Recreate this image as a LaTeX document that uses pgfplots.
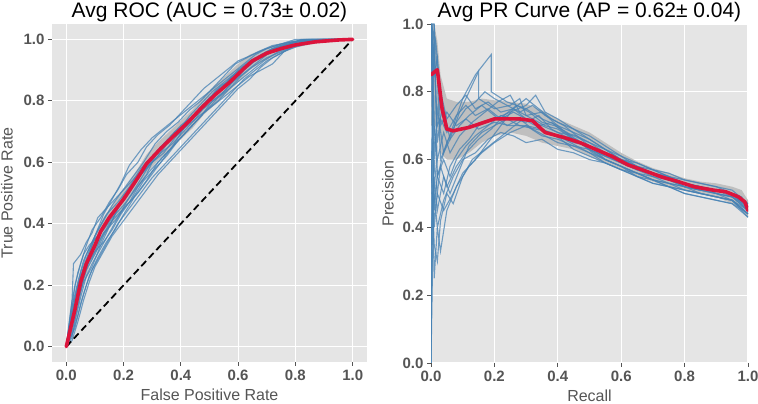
\documentclass[border=0pt]{standalone}
\usepackage{pgfplots}
\pgfplotsset{compat=1.18}
\usepackage{fontspec}
\setmainfont{Liberation Sans}
\definecolor{bg}{HTML}{E5E5E5}
\definecolor{tickc}{HTML}{555555}
\definecolor{foldc}{HTML}{4682B4}
\definecolor{meanc}{HTML}{DC143C}
\pgfplotsset{
 myax/.style={
  scale only axis,
  axis background/.style={fill=bg},
  axis line style={draw=none},
  grid=major, major grid style={white, line width=1.1pt},
  tick style={tickc, line width=0.8pt}, tick align=outside, major tick length=4pt,
  xtick pos=lower, ytick pos=left,
  xtick={0,0.2,0.4,0.6,0.8,1.0}, ytick={0,0.2,0.4,0.6,0.8,1.0},
  xticklabels={0.0,0.2,0.4,0.6,0.8,1.0}, yticklabels={0.0,0.2,0.4,0.6,0.8,1.0},
  ticklabel style={font=\fontsize{15}{15}\selectfont\bfseries, text=tickc},
  label style={font=\fontsize{16}{16}\selectfont, text=tickc},
  title style={font=\fontsize{21}{21}\selectfont, anchor=base, at={(0.5,1)}, yshift=0pt},
  every axis title shift=6pt,
  xlabel shift=2pt, ylabel shift=2pt,
 },
 fold/.style={foldc, opacity=0.75, line width=1.1pt, mark=none, line join=miter},
 roc/.style={fold},
 band/.style={draw=none, fill=black!25},
 meanl/.style={meanc, line width=3.6pt, mark=none, line join=round, line cap=round},
}
\begin{document}
\begin{tikzpicture}
\useasboundingbox (0,0) rectangle (758pt,404pt);
\begin{axis}[myax, at={(52pt,42pt)}, anchor=south west, width=315pt, height=338pt,
  xmin=-0.05, xmax=1.05, ymin=-0.05, ymax=1.05, ylabel shift=4pt,
  title={Avg ROC (AUC = 0.73± 0.02)}, xlabel={False Positive Rate}, ylabel={True Positive Rate}]
\addplot[band] coordinates {(0,0)(0.02,0.1)(0.05,0.23)(0.08,0.32)(0.1,0.36)(0.13,0.42)(0.16,0.46)(0.2,0.51)(0.24,0.565)(0.28,0.625)(0.32,0.665)(0.36,0.7)(0.4,0.735)(0.44,0.77)(0.48,0.815)(0.52,0.85)(0.56,0.885)(0.6,0.92)(0.64,0.95)(0.68,0.965)(0.72,0.977)(0.76,0.986)(0.8,0.993)(0.85,0.997)(0.9,1)(1,1)(0.9,0.99)(0.85,0.983)(0.8,0.973)(0.76,0.96)(0.72,0.943)(0.68,0.925)(0.64,0.9)(0.6,0.86)(0.56,0.825)(0.52,0.79)(0.48,0.755)(0.44,0.71)(0.4,0.675)(0.36,0.64)(0.32,0.605)(0.28,0.565)(0.24,0.505)(0.2,0.45)(0.16,0.4)(0.13,0.36)(0.1,0.3)(0.08,0.26)(0.05,0.17)(0.02,0.04)(0,0)} -- cycle;
\addplot[roc] coordinates {(0,0)(0.01,0.06)(0.02,0.12)(0.03,0.2)(0.05,0.27)(0.07,0.33)(0.09,0.38)(0.12,0.42)(0.15,0.47)(0.18,0.51)(0.21,0.56)(0.25,0.6)(0.28,0.65)(0.32,0.69)(0.36,0.72)(0.4,0.76)(0.44,0.8)(0.48,0.84)(0.52,0.87)(0.56,0.9)(0.6,0.93)(0.65,0.95)(0.7,0.97)(0.75,0.985)(0.8,0.995)(0.9,1)(1,1)};
\addplot[roc] coordinates {(0,0)(0.01,0.02)(0.03,0.06)(0.05,0.14)(0.07,0.2)(0.09,0.25)(0.12,0.3)(0.15,0.35)(0.18,0.4)(0.22,0.45)(0.26,0.5)(0.3,0.55)(0.34,0.59)(0.38,0.63)(0.42,0.67)(0.46,0.71)(0.5,0.75)(0.54,0.79)(0.58,0.83)(0.62,0.87)(0.66,0.9)(0.7,0.93)(0.74,0.95)(0.78,0.97)(0.82,0.99)(0.9,1)(1,1)};
\addplot[roc] coordinates {(0,0)(0.01,0.08)(0.02,0.15)(0.04,0.24)(0.06,0.3)(0.08,0.33)(0.11,0.36)(0.14,0.4)(0.17,0.44)(0.2,0.49)(0.24,0.54)(0.28,0.58)(0.32,0.62)(0.36,0.67)(0.4,0.7)(0.45,0.75)(0.5,0.8)(0.55,0.85)(0.6,0.88)(0.64,0.92)(0.68,0.95)(0.72,0.97)(0.77,0.98)(0.82,1)(1,1)};
\addplot[roc] coordinates {(0,0)(0.02,0.05)(0.04,0.13)(0.06,0.22)(0.08,0.28)(0.1,0.31)(0.13,0.34)(0.16,0.38)(0.19,0.43)(0.22,0.47)(0.25,0.52)(0.29,0.57)(0.33,0.61)(0.37,0.65)(0.41,0.69)(0.45,0.73)(0.49,0.77)(0.53,0.81)(0.57,0.84)(0.61,0.88)(0.65,0.91)(0.7,0.94)(0.75,0.96)(0.8,0.98)(0.85,0.995)(1,1)};
\addplot[roc] coordinates {(0,0)(0.01,0.04)(0.02,0.1)(0.03,0.16)(0.05,0.24)(0.07,0.3)(0.1,0.36)(0.13,0.41)(0.16,0.46)(0.19,0.5)(0.23,0.55)(0.27,0.6)(0.31,0.66)(0.35,0.7)(0.39,0.73)(0.43,0.77)(0.47,0.8)(0.51,0.84)(0.55,0.88)(0.59,0.92)(0.63,0.94)(0.67,0.96)(0.72,0.98)(0.78,0.99)(0.85,1)(1,1)};
\addplot[roc] coordinates {(0,0)(0.02,0.04)(0.04,0.1)(0.06,0.17)(0.08,0.23)(0.11,0.29)(0.14,0.34)(0.17,0.38)(0.2,0.43)(0.24,0.49)(0.28,0.54)(0.32,0.6)(0.36,0.64)(0.4,0.68)(0.44,0.72)(0.48,0.76)(0.52,0.79)(0.56,0.82)(0.6,0.85)(0.64,0.88)(0.68,0.9)(0.72,0.92)(0.76,0.96)(0.8,0.98)(0.85,0.99)(0.92,1)(1,1)};
\addplot[roc] coordinates {(0,0)(0.01,0.05)(0.02,0.09)(0.04,0.18)(0.06,0.26)(0.08,0.31)(0.1,0.35)(0.13,0.38)(0.16,0.42)(0.2,0.46)(0.24,0.51)(0.28,0.56)(0.32,0.64)(0.36,0.68)(0.4,0.72)(0.44,0.75)(0.48,0.78)(0.52,0.83)(0.56,0.86)(0.6,0.9)(0.64,0.93)(0.68,0.95)(0.73,0.97)(0.78,0.985)(0.83,1)(1,1)};
\addplot[roc] coordinates {(0,0)(0.01,0.07)(0.02,0.15)(0.025,0.27)(0.05,0.3)(0.07,0.34)(0.09,0.37)(0.11,0.42)(0.14,0.45)(0.18,0.49)(0.22,0.53)(0.26,0.57)(0.3,0.61)(0.34,0.65)(0.38,0.69)(0.42,0.73)(0.46,0.77)(0.5,0.81)(0.54,0.85)(0.58,0.87)(0.62,0.9)(0.66,0.93)(0.7,0.96)(0.75,0.98)(0.8,0.99)(0.88,1)(1,1)};
\addplot[roc] coordinates {(0,0)(0.02,0.03)(0.03,0.08)(0.05,0.16)(0.07,0.23)(0.09,0.27)(0.12,0.32)(0.15,0.37)(0.18,0.42)(0.21,0.47)(0.25,0.53)(0.29,0.59)(0.33,0.63)(0.37,0.66)(0.41,0.7)(0.45,0.74)(0.49,0.79)(0.53,0.83)(0.57,0.87)(0.61,0.9)(0.65,0.93)(0.69,0.955)(0.73,0.975)(0.78,0.99)(0.84,1)(1,1)};
\addplot[roc] coordinates {(0,0)(0.01,0.03)(0.02,0.08)(0.04,0.15)(0.06,0.21)(0.09,0.26)(0.12,0.33)(0.15,0.39)(0.18,0.45)(0.22,0.5)(0.26,0.56)(0.3,0.6)(0.34,0.63)(0.38,0.68)(0.42,0.72)(0.46,0.76)(0.5,0.79)(0.54,0.82)(0.58,0.86)(0.62,0.89)(0.66,0.92)(0.7,0.95)(0.75,0.975)(0.8,0.99)(0.86,1)(1,1)};
\addplot[roc] coordinates {(0,0)(0.01,0.06)(0.03,0.13)(0.05,0.22)(0.07,0.27)(0.1,0.32)(0.13,0.37)(0.17,0.41)(0.21,0.46)(0.25,0.5)(0.29,0.55)(0.33,0.6)(0.37,0.65)(0.41,0.71)(0.45,0.74)(0.49,0.77)(0.53,0.8)(0.57,0.84)(0.61,0.87)(0.65,0.9)(0.69,0.93)(0.74,0.96)(0.79,0.98)(0.85,0.995)(1,1)};
\addplot[roc] coordinates {(0,0)(0.01,0.03)(0.02,0.07)(0.03,0.12)(0.05,0.19)(0.07,0.25)(0.1,0.3)(0.13,0.36)(0.16,0.41)(0.19,0.47)(0.23,0.52)(0.27,0.57)(0.31,0.62)(0.35,0.66)(0.39,0.7)(0.43,0.75)(0.47,0.79)(0.51,0.83)(0.55,0.86)(0.59,0.89)(0.63,0.92)(0.67,0.94)(0.71,0.96)(0.76,0.98)(0.81,0.995)(1,1)};
\addplot[roc] coordinates {(0,0)(0.01,0.05)(0.02,0.11)(0.04,0.2)(0.06,0.25)(0.09,0.29)(0.12,0.35)(0.15,0.4)(0.19,0.44)(0.23,0.48)(0.27,0.54)(0.31,0.58)(0.35,0.62)(0.39,0.67)(0.43,0.71)(0.47,0.75)(0.51,0.8)(0.55,0.83)(0.59,0.87)(0.63,0.91)(0.67,0.94)(0.71,0.96)(0.76,0.975)(0.82,0.99)(0.9,1)(1,1)};
\addplot[roc] coordinates {(0,0)(0.01,0.04)(0.03,0.15)(0.05,0.23)(0.08,0.3)(0.1,0.36)(0.13,0.43)(0.16,0.48)(0.19,0.53)(0.22,0.59)(0.26,0.64)(0.3,0.68)(0.34,0.71)(0.38,0.74)(0.42,0.77)(0.46,0.8)(0.5,0.83)(0.54,0.86)(0.58,0.89)(0.62,0.92)(0.66,0.95)(0.7,0.97)(0.75,0.985)(0.8,1)(1,1)};
\addplot[roc] coordinates {(0,0)(0.02,0.02)(0.04,0.08)(0.06,0.15)(0.08,0.21)(0.1,0.26)(0.13,0.31)(0.16,0.36)(0.2,0.41)(0.24,0.46)(0.28,0.51)(0.32,0.56)(0.36,0.6)(0.4,0.64)(0.44,0.68)(0.48,0.72)(0.52,0.76)(0.56,0.8)(0.6,0.84)(0.64,0.87)(0.68,0.91)(0.72,0.94)(0.76,0.96)(0.8,0.975)(0.86,0.99)(0.92,1)(1,1)};
\addplot[roc] coordinates {(0,0)(0.01,0.07)(0.02,0.13)(0.04,0.21)(0.06,0.28)(0.08,0.32)(0.11,0.38)(0.14,0.43)(0.18,0.47)(0.22,0.52)(0.26,0.58)(0.3,0.62)(0.34,0.66)(0.38,0.7)(0.42,0.73)(0.46,0.77)(0.5,0.81)(0.54,0.84)(0.58,0.88)(0.62,0.91)(0.66,0.93)(0.7,0.95)(0.74,0.97)(0.78,0.98)(0.84,0.995)(1,1)};
\addplot[black, line width=1.8pt, dash pattern=on 7pt off 4pt] coordinates {(0,0)(1,1)};
\addplot[meanl] coordinates {(0,0)(0.01,0.04)(0.03,0.12)(0.05,0.21)(0.07,0.27)(0.1,0.33)(0.12,0.375)(0.15,0.42)(0.2,0.48)(0.25,0.55)(0.28,0.595)(0.33,0.645)(0.38,0.69)(0.43,0.735)(0.47,0.775)(0.52,0.82)(0.57,0.86)(0.62,0.905)(0.65,0.93)(0.7,0.955)(0.75,0.97)(0.8,0.982)(0.87,0.992)(0.95,0.998)(1,1)};
\end{axis}
\begin{axis}[myax, at={(431pt,41pt)}, anchor=south west, width=317pt, height=339pt,
  xmin=0, xmax=1, ymin=0, ymax=1,
  title={Avg PR Curve (AP = 0.62± 0.04)}, xlabel={Recall}, ylabel={Precision}]
\addplot[band] coordinates {(0,1)(0.01,1)(0.02,0.95)(0.03,0.85)(0.05,0.78)(0.08,0.77)(0.12,0.77)(0.16,0.78)(0.2,0.775)(0.25,0.77)(0.3,0.765)(0.35,0.745)(0.4,0.72)(0.45,0.7)(0.5,0.68)(0.55,0.65)(0.6,0.62)(0.65,0.595)(0.7,0.575)(0.75,0.56)(0.8,0.545)(0.85,0.535)(0.9,0.53)(0.95,0.52)(0.98,0.51)(1,0.48)(1,0.43)(0.98,0.455)(0.95,0.47)(0.9,0.49)(0.85,0.5)(0.8,0.51)(0.75,0.52)(0.7,0.535)(0.65,0.55)(0.6,0.57)(0.55,0.59)(0.5,0.61)(0.45,0.63)(0.4,0.64)(0.35,0.65)(0.3,0.67)(0.25,0.68)(0.2,0.67)(0.16,0.65)(0.12,0.62)(0.08,0.6)(0.05,0.6)(0.03,0.62)(0.02,0.7)(0.01,0.7)(0,0.7)} -- cycle;
\addplot[fold] coordinates {(0,1)(0.01,0.6)(0.02,0.75)(0.04,0.62)(0.07,0.7)(0.1,0.78)(0.14,0.85)(0.19,0.91)(0.19,0.8)(0.24,0.77)(0.3,0.75)(0.35,0.72)(0.4,0.7)(0.45,0.66)(0.5,0.64)(0.55,0.62)(0.6,0.6)(0.65,0.57)(0.7,0.56)(0.75,0.54)(0.8,0.53)(0.85,0.52)(0.9,0.51)(0.95,0.5)(0.98,0.49)(1,0.46)};
\addplot[fold] coordinates {(0,0)(0.005,0.5)(0.01,0.25)(0.02,0.4)(0.03,0.33)(0.05,0.45)(0.08,0.52)(0.12,0.58)(0.16,0.62)(0.2,0.65)(0.25,0.68)(0.3,0.7)(0.35,0.69)(0.4,0.67)(0.45,0.65)(0.5,0.64)(0.55,0.6)(0.6,0.58)(0.65,0.56)(0.7,0.54)(0.75,0.53)(0.8,0.51)(0.85,0.5)(0.9,0.49)(0.95,0.48)(1,0.44)};
\addplot[fold] coordinates {(0,1)(0.01,0.9)(0.02,0.7)(0.04,0.75)(0.06,0.66)(0.09,0.74)(0.12,0.8)(0.15,0.86)(0.15,0.78)(0.2,0.75)(0.25,0.76)(0.28,0.78)(0.3,0.73)(0.35,0.74)(0.4,0.7)(0.45,0.68)(0.5,0.66)(0.55,0.63)(0.6,0.6)(0.65,0.59)(0.7,0.57)(0.75,0.55)(0.8,0.53)(0.85,0.52)(0.9,0.51)(0.95,0.5)(1,0.45)};
\addplot[fold] coordinates {(0,0.5)(0.01,1)(0.02,0.55)(0.04,0.5)(0.06,0.58)(0.09,0.63)(0.12,0.66)(0.15,0.7)(0.2,0.72)(0.25,0.74)(0.3,0.76)(0.33,0.79)(0.36,0.74)(0.4,0.72)(0.45,0.69)(0.5,0.67)(0.55,0.64)(0.6,0.61)(0.65,0.58)(0.7,0.57)(0.75,0.55)(0.8,0.52)(0.85,0.51)(0.9,0.5)(0.95,0.49)(1,0.47)};
\addplot[fold] coordinates {(0,1)(0.01,0.5)(0.02,0.4)(0.04,0.48)(0.07,0.55)(0.1,0.6)(0.14,0.62)(0.18,0.66)(0.22,0.68)(0.26,0.67)(0.3,0.65)(0.35,0.66)(0.4,0.63)(0.45,0.62)(0.5,0.6)(0.55,0.59)(0.6,0.57)(0.65,0.55)(0.7,0.53)(0.75,0.52)(0.8,0.5)(0.85,0.49)(0.9,0.48)(0.95,0.47)(1,0.43)};
\addplot[fold] coordinates {(0,1)(0.015,0.95)(0.03,0.8)(0.05,0.72)(0.08,0.76)(0.11,0.79)(0.14,0.75)(0.18,0.77)(0.22,0.74)(0.26,0.75)(0.3,0.72)(0.35,0.7)(0.4,0.68)(0.45,0.67)(0.5,0.65)(0.55,0.63)(0.6,0.61)(0.65,0.59)(0.7,0.57)(0.75,0.56)(0.8,0.54)(0.85,0.53)(0.9,0.52)(0.95,0.5)(1,0.46)};
\addplot[fold] coordinates {(0,0)(0.005,1)(0.01,0.7)(0.02,0.6)(0.04,0.68)(0.06,0.62)(0.09,0.67)(0.13,0.71)(0.17,0.74)(0.21,0.77)(0.25,0.79)(0.28,0.74)(0.32,0.72)(0.36,0.7)(0.4,0.69)(0.45,0.66)(0.5,0.63)(0.55,0.6)(0.6,0.58)(0.65,0.56)(0.7,0.55)(0.75,0.53)(0.8,0.52)(0.85,0.51)(0.9,0.5)(0.95,0.49)(1,0.45)};
\addplot[fold] coordinates {(0,1)(0.01,0.4)(0.02,0.5)(0.04,0.45)(0.07,0.5)(0.1,0.56)(0.14,0.6)(0.18,0.65)(0.22,0.7)(0.26,0.75)(0.3,0.78)(0.34,0.75)(0.38,0.72)(0.42,0.7)(0.46,0.67)(0.5,0.64)(0.55,0.61)(0.6,0.59)(0.65,0.57)(0.7,0.56)(0.75,0.54)(0.8,0.53)(0.85,0.52)(0.9,0.5)(0.95,0.48)(1,0.44)};
\addplot[fold] coordinates {(0,1)(0.01,0.85)(0.02,0.9)(0.03,0.7)(0.05,0.74)(0.08,0.7)(0.11,0.72)(0.15,0.69)(0.2,0.71)(0.25,0.7)(0.3,0.7)(0.35,0.67)(0.4,0.66)(0.45,0.64)(0.5,0.63)(0.55,0.61)(0.6,0.6)(0.65,0.58)(0.7,0.56)(0.75,0.54)(0.8,0.52)(0.85,0.51)(0.9,0.51)(0.95,0.49)(1,0.46)};
\addplot[fold] coordinates {(0,0)(0.005,0.3)(0.01,0.55)(0.02,0.45)(0.04,0.55)(0.06,0.5)(0.09,0.57)(0.12,0.64)(0.16,0.68)(0.2,0.7)(0.24,0.72)(0.28,0.7)(0.33,0.69)(0.38,0.68)(0.42,0.66)(0.46,0.64)(0.5,0.62)(0.55,0.6)(0.6,0.58)(0.65,0.56)(0.7,0.54)(0.75,0.52)(0.8,0.51)(0.85,0.5)(0.9,0.49)(0.95,0.48)(1,0.43)};
\addplot[fold] coordinates {(0,1)(0.01,1)(0.02,0.85)(0.03,0.6)(0.05,0.65)(0.08,0.71)(0.11,0.75)(0.14,0.77)(0.17,0.8)(0.2,0.78)(0.24,0.76)(0.28,0.74)(0.32,0.76)(0.36,0.73)(0.4,0.71)(0.45,0.69)(0.5,0.66)(0.55,0.63)(0.6,0.6)(0.65,0.58)(0.7,0.56)(0.75,0.55)(0.8,0.54)(0.85,0.53)(0.9,0.52)(0.95,0.51)(1,0.47)};
\addplot[fold] coordinates {(0,0.6)(0.01,0.35)(0.02,0.3)(0.03,0.42)(0.05,0.5)(0.07,0.47)(0.1,0.55)(0.13,0.6)(0.17,0.63)(0.21,0.66)(0.25,0.69)(0.29,0.72)(0.33,0.7)(0.37,0.68)(0.41,0.66)(0.45,0.63)(0.5,0.61)(0.55,0.59)(0.6,0.57)(0.65,0.55)(0.7,0.53)(0.75,0.52)(0.8,0.5)(0.85,0.49)(0.9,0.48)(0.95,0.47)(1,0.44)};
\addplot[fold] coordinates {(0,1)(0.01,0.7)(0.02,0.55)(0.04,0.6)(0.06,0.55)(0.08,0.6)(0.11,0.64)(0.14,0.67)(0.18,0.7)(0.22,0.73)(0.26,0.72)(0.3,0.71)(0.34,0.73)(0.38,0.69)(0.42,0.67)(0.46,0.66)(0.5,0.63)(0.55,0.61)(0.6,0.59)(0.65,0.57)(0.7,0.55)(0.75,0.54)(0.8,0.52)(0.85,0.51)(0.9,0.5)(0.95,0.49)(1,0.45)};
\addplot[fold] coordinates {(0,0.33)(0.01,0.6)(0.02,0.5)(0.03,0.58)(0.05,0.52)(0.08,0.58)(0.11,0.62)(0.15,0.66)(0.19,0.69)(0.23,0.73)(0.27,0.76)(0.31,0.74)(0.35,0.71)(0.39,0.7)(0.43,0.68)(0.47,0.65)(0.51,0.62)(0.55,0.6)(0.6,0.58)(0.65,0.55)(0.7,0.54)(0.75,0.52)(0.8,0.51)(0.85,0.5)(0.9,0.49)(0.95,0.48)(1,0.44)};
\addplot[fold] coordinates {(0,1)(0.01,0.95)(0.02,0.65)(0.03,0.72)(0.05,0.68)(0.08,0.73)(0.11,0.76)(0.14,0.73)(0.18,0.75)(0.22,0.72)(0.26,0.74)(0.3,0.72)(0.34,0.7)(0.38,0.71)(0.42,0.68)(0.46,0.67)(0.5,0.65)(0.55,0.62)(0.6,0.6)(0.65,0.58)(0.7,0.56)(0.75,0.55)(0.8,0.53)(0.85,0.52)(0.9,0.51)(0.95,0.5)(1,0.46)};
\addplot[fold] coordinates {(0,0)(0.005,0.65)(0.01,0.45)(0.02,0.55)(0.04,0.62)(0.06,0.66)(0.09,0.7)(0.12,0.73)(0.16,0.76)(0.2,0.73)(0.24,0.7)(0.28,0.72)(0.32,0.69)(0.36,0.67)(0.4,0.65)(0.45,0.64)(0.5,0.62)(0.55,0.59)(0.6,0.57)(0.65,0.56)(0.7,0.54)(0.75,0.53)(0.8,0.52)(0.85,0.5)(0.9,0.49)(0.95,0.48)(1,0.45)};
\addplot[meanl] coordinates {(0,0.85)(0.02,0.865)(0.035,0.75)(0.05,0.69)(0.07,0.685)(0.12,0.695)(0.2,0.72)(0.28,0.72)(0.32,0.715)(0.36,0.68)(0.42,0.665)(0.47,0.65)(0.52,0.63)(0.57,0.61)(0.62,0.585)(0.68,0.565)(0.73,0.548)(0.78,0.535)(0.83,0.52)(0.89,0.51)(0.93,0.505)(0.97,0.49)(0.99,0.475)(1,0.45)};
\end{axis}
\end{tikzpicture}
\end{document}
